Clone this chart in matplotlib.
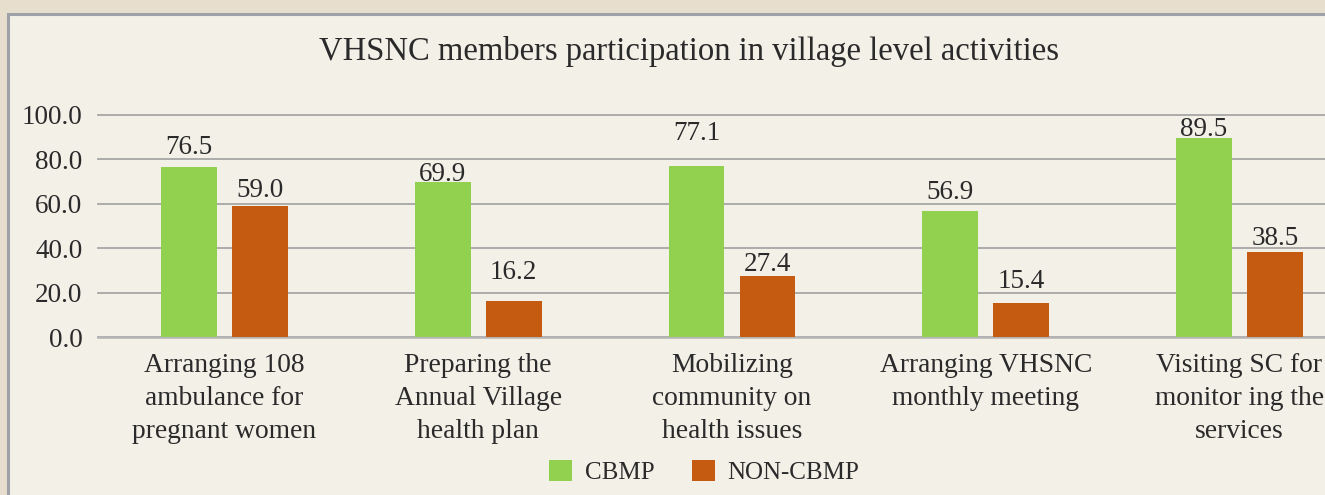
import matplotlib
matplotlib.use("Agg")
import matplotlib.pyplot as plt
from matplotlib.patches import Rectangle, Patch
import numpy as np

# ---- data ----
categories = [
    "Arranging 108\nambulance for\npregnant women",
    "Preparing the\nAnnual Village\nhealth plan",
    "Mobilizing\ncommunity on\nhealth issues",
    "Arranging VHSNC\nmonthly meeting",
    "Visiting SC for\nmonitor ing the\nservices",
]
cbmp = [76.5, 69.9, 77.1, 56.9, 89.5]
non_cbmp = [59.0, 16.2, 27.4, 15.4, 38.5]
series_names = ["CBMP", "NON-CBMP"]
title = "VHSNC members participation in village level activities"
yticks = [0, 20, 40, 60, 80, 100]

# ---- style ----
W, H = 1325, 495
GREEN = "#92d050"
ORANGE = "#c55a11"
TXT = "#2a2a2a"
FONT = ["Liberation Serif", "DejaVu Serif"]
plt.rcParams["font.family"] = FONT
# label gaps above the bar tops (pixels), as placed in the reference
gap_cbmp = [12.7, 1.0, 26.0, 12.0, 2.0]
gap_non = [9.3, 22.0, 5.3, 15.0, 7.0]

fig = plt.figure(figsize=(W / 100, H / 100), dpi=100)
fig.patch.set_facecolor("#e8dece")

# inner panel
panel = Rectangle((8 / W, -0.1), 1.2, 1 - 14 / H + 0.1, transform=fig.transFigure,
                  facecolor="#f3f0e8", edgecolor="#9ea2a8", linewidth=2.2, zorder=-5)
fig.patches.append(panel)

left = 97.6 / W
width = 1268.75 / W
bottom = (H - 337.3) / H
height = (337.3 - 114.7) / H
ax = fig.add_axes([left, bottom, width, height])
ax.set_zorder(2)
ax.set_facecolor("none")

x = np.arange(len(categories))
bw = 0.22
off = 0.14
b1 = ax.bar(x - off, cbmp, bw, color=GREEN, zorder=3)
b2 = ax.bar(x + off, non_cbmp, bw, color=ORANGE, zorder=3)

for bars, vals, gaps in ((b1, cbmp, gap_cbmp), (b2, non_cbmp, gap_non)):
    for r, v, g in zip(bars, vals, gaps):
        ax.annotate(f"{v:.1f}", (r.get_x() + r.get_width() / 2, v),
                    xytext=(0, g), textcoords="offset pixels",
                    ha="center", va="baseline", fontsize=19.5, color=TXT,
                    annotation_clip=False, zorder=4)

ax.set_xlim(-0.5, len(categories) - 0.5)
ax.set_ylim(0, 100)
ax.set_yticks(yticks)
ax.set_yticklabels([f"{t:.1f}" for t in yticks])
ax.set_xticks(x)
ax.set_xticklabels(categories, linespacing=1.42)
ax.tick_params(axis="y", length=0, pad=11, labelsize=19.5, labelcolor=TXT)
ax.tick_params(axis="x", length=0, pad=11, labelsize=19.8, labelcolor=TXT)

ax.grid(axis="y", color="#a6a6a6", linewidth=1.3, zorder=1)
for gl in ax.get_ygridlines():
    gl.set_clip_on(False)
for s in ("top", "right", "left"):
    ax.spines[s].set_visible(False)
ax.spines["bottom"].set_color("#b4b4b4")
ax.spines["bottom"].set_linewidth(1.8)
ax.spines["bottom"].set_zorder(2)

fig.text(689 / W, 1 - 60 / H, title, ha="center", va="baseline",
         fontsize=23.5, color=TXT)

handles = [Patch(facecolor=GREEN), Patch(facecolor=ORANGE)]
fig.legend(handles, series_names, loc="center", bbox_to_anchor=(704 / W, 23 / H),
           ncol=2, frameon=False, fontsize=18, labelcolor=TXT,
           handlelength=0.92, handleheight=0.92, handletextpad=0.5,
           columnspacing=1.5)

fig.savefig("out.png", dpi=100, facecolor=fig.get_facecolor())
